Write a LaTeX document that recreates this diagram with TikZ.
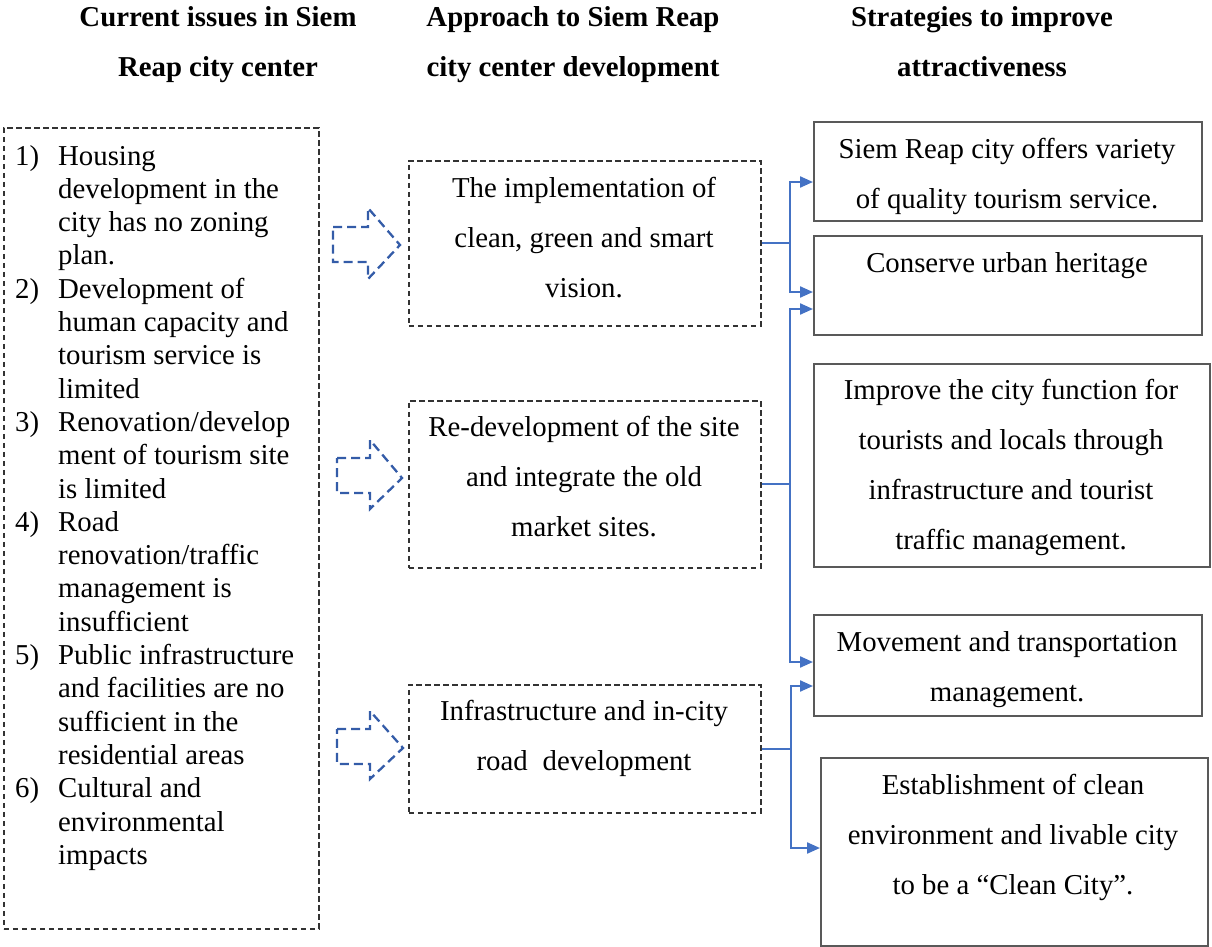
\documentclass[tikz,border=0pt]{standalone}
\usepackage{fontspec}
\setmainfont{Liberation Serif}
\usetikzlibrary{arrows.meta}
\definecolor{connblue}{RGB}{68,114,196}
\definecolor{arrblue}{RGB}{52,92,168}
\begin{document}
\begin{tikzpicture}[x=1pt,y=-1pt,
  dbox/.style={draw=black!80, line width=1.6pt, dash pattern=on 5.5pt off 3.5pt, inner sep=0pt, anchor=north west},
  sbox/.style={draw=black!65, line width=1.8pt, inner sep=0pt, anchor=north west},
  txt/.style={font=\fontsize{28.8}{50}\selectfont, align=center, inner sep=0pt},
  hdr/.style={font=\fontsize{28.8}{50}\selectfont\bfseries, align=center, inner sep=0pt},
  conn/.style={draw=connblue, line width=2.2pt, -{Triangle[length=13pt,width=11pt]}},
  harrow/.style={draw=arrblue, line width=2.3pt, dash pattern=on 9pt off 5pt, line join=miter}]
\useasboundingbox (0,0) rectangle (1212,947);

% headers
\node[hdr] (h1) at (218,45) {Current issues in Siem\\Reap city center};
\node[hdr] (h2) at (573,45) {Approach to Siem Reap\\city center development};
\node[hdr] (h3) at (982,42) {Strategies to improve\\attractiveness};

% left box
\node[dbox, minimum width=315pt, minimum height=801pt] (L) at (3,127) {};
\node[inner sep=0pt, anchor=north west, font=\fontsize{28.8}{33.3}\selectfont] (Lt) at (15,141.5) {%
\begin{tabular}{@{}p{43pt}@{}l@{}}
1) & Housing\\
   & development in the\\
   & city has no zoning\\
   & plan.\\
2) & Development of\\
   & human capacity and\\
   & tourism service is\\
   & limited\\
3) & Renovation/develop\\
   & ment of tourism site\\
   & is limited\\
4) & Road\\
   & renovation/traffic\\
   & management is\\
   & insufficient\\
5) & Public infrastructure\\
   & and facilities are no\\
   & sufficient in the\\
   & residential areas\\
6) & Cultural and\\
   & environmental\\
   & impacts
\end{tabular}};

% hollow dashed arrows
\draw[harrow] (333,227) -- (368,227) -- (368,208) -- (400,245) -- (368,279) -- (368,262) -- (333,262) -- cycle;
\draw[harrow] (337,458) -- (370,458) -- (370,440) -- (402,478) -- (370,509) -- (370,493) -- (337,493) -- cycle;
\draw[harrow] (337,729) -- (370,729) -- (370,711) -- (403,748) -- (370,779) -- (370,764) -- (337,764) -- cycle;

% middle boxes
\node[dbox, minimum width=352pt, minimum height=165pt] (A) at (408,160) {};
\node[txt] (At) at (584,238) {The implementation of\\clean, green and smart\\vision.};
\node[dbox, minimum width=352pt, minimum height=167pt] (B) at (408,400) {};
\node[txt] (Bt) at (584,477) {Re-development of the site\\and integrate the old\\market sites.};
\node[dbox, minimum width=352pt, minimum height=128pt] (C) at (408,684) {};
\node[txt] (Ct) at (584,738.5) {Infrastructure and in-city\\road\hspace{15pt}development};

% right boxes
\node[sbox, minimum width=388pt, minimum height=99pt] (R1) at (813,121) {};
\node[txt] (R1t) at (1007,176) {Siem Reap city offers variety\\of quality tourism service.};
\node[sbox, minimum width=388pt, minimum height=99pt] (R2) at (813,235) {};
\node[txt] (R2t) at (1007,266) {Conserve urban heritage};
\node[sbox, minimum width=396pt, minimum height=203pt] (R3) at (813,363) {};
\node[txt] (R3t) at (1011,467) {Improve the city function for\\tourists and locals through\\infrastructure and tourist\\traffic management.};
\node[sbox, minimum width=388pt, minimum height=101pt] (R4) at (813,614) {};
\node[txt] (R4t) at (1007,670) {Movement and transportation\\management.};
\node[sbox, minimum width=387pt, minimum height=188pt] (R5) at (820,757) {};
\node[txt] (R5t) at (1013,837) {Establishment of clean\\environment and livable city\\to be a “Clean City”.};

% connectors
\draw[conn] (A.east) -- ++(28,0) |- (R1.west |- 0,182);
\draw[conn] (A.east) -- ++(28,0) |- (R2.west |- 0,292);
\draw[conn] (B.east) -- ++(28,0) |- (R2.west |- 0,309);
\draw[conn] (B.east) -- ++(28,0) |- (R4.west |- 0,662);
\draw[conn] (C.east) -- ++(29,0) |- (R4.west |- 0,686);
\draw[conn] (C.east) -- ++(29,0) |- (R5.west |- 0,848);
\end{tikzpicture}
\end{document}
